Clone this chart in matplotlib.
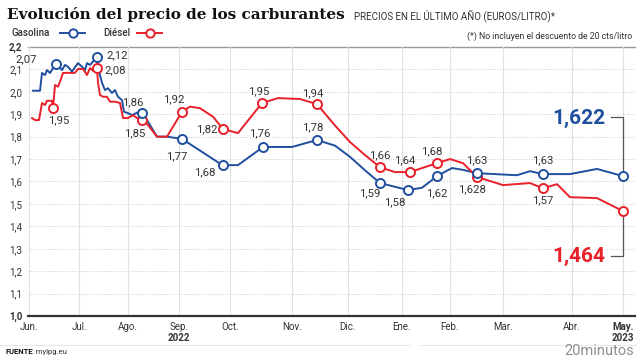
import matplotlib
matplotlib.use("Agg")
import matplotlib.pyplot as plt
import numpy as np

# ---------------- data ----------------
months = ["Jun.", "Jul.", "Ago.", "Sep.", "Oct.", "Nov.", "Dic.", "Ene.", "Feb.", "Mar.", "Abr.", "May."]
month_pos = [29, 79, 128, 179, 230, 292, 348, 402, 450, 503, 572, 623]

gas_x = [33, 40, 42, 45, 47, 50, 53, 56, 62, 65, 68, 72, 75, 78, 82, 85, 87, 90, 93, 97,
         99, 102, 105, 108, 112, 115, 118, 122, 124, 128, 132, 137, 142, 147, 157, 167, 182,
         220, 223, 238, 263, 292, 317, 335, 350, 365, 380, 408, 422, 437, 452, 463, 477,
         517, 530, 543, 570, 597, 623]
gas_y = [2.005, 2.005, 2.084, 2.075, 2.097, 2.084, 2.106, 2.124, 2.097, 2.12, 2.112, 2.09,
         2.11, 2.128, 2.112, 2.097, 2.128, 2.12, 2.135, 2.155,
         2.09, 2.04, 2.008, 2.016, 1.995, 2.008, 1.978, 1.963, 1.911, 1.905, 1.896, 1.907,
         1.905, 1.874, 1.80, 1.80, 1.79,
         1.68, 1.673, 1.673, 1.754, 1.754, 1.785, 1.76, 1.71, 1.65, 1.593, 1.562, 1.572,
         1.624, 1.66, 1.652, 1.637, 1.628, 1.646, 1.633, 1.633, 1.656, 1.624]

die_x = [32, 35, 39, 42, 45, 47, 52, 53, 55, 58, 60, 63, 67, 72, 75, 78, 83, 87, 90, 93, 97,
         98, 100, 103, 107, 110, 115, 120, 123, 128, 133, 137, 142, 148, 157, 167, 182, 190,
         200, 213, 223, 238, 262, 278, 300, 317, 335, 350, 365, 380, 395, 410, 437, 450, 463,
         477, 503, 530, 543, 557, 570, 597, 623]
die_y = [1.883, 1.874, 1.874, 1.95, 1.941, 1.96, 1.96, 1.928, 2.03, 2.023, 2.045, 2.084,
         2.085, 2.084, 2.085, 2.102, 2.102, 2.075, 2.106, 2.094, 2.106,
         2.04, 1.986, 1.978, 1.978, 1.956, 1.956, 1.95, 1.883, 1.883, 1.896, 1.883, 1.874,
         1.852, 1.80, 1.80, 1.911, 1.934, 1.927, 1.889, 1.834, 1.816, 1.95, 1.972, 1.968,
         1.945, 1.85, 1.776, 1.718, 1.664, 1.642, 1.642, 1.682, 1.70, 1.682, 1.62, 1.584,
         1.593, 1.57, 1.588, 1.53, 1.526, 1.468]

gas_mark_x = [56, 97, 142, 182, 223, 263, 317, 380, 408, 437, 477, 543, 623]
gas_mark_y = [2.124, 2.155, 1.905, 1.79, 1.673, 1.754, 1.785, 1.593, 1.562, 1.624, 1.637, 1.633, 1.624]
gas_labels = ["2,07", "2,12", "1,86", "1,77", "1,68", "1,76", "1,78", "1,59", "1,58", "1,62", "1,628", "1,63", None]

die_mark_x = [53, 97, 142, 182, 223, 262, 317, 380, 410, 437, 477, 543, 623]
die_mark_y = [1.928, 2.106, 1.874, 1.911, 1.834, 1.95, 1.945, 1.664, 1.642, 1.682, 1.62, 1.57, 1.468]
die_labels = ["1,95", "2,08", "1,85", "1,92", "1,82", "1,95", "1,94", "1,66", "1,64", "1,68", "1,63", "1,57", None]

final_gas = "1,622"
final_die = "1,464"

yticks = [1.0, 1.1, 1.2, 1.3, 1.4, 1.5, 1.6, 1.7, 1.8, 1.9, 2.0, 2.1, 2.2]

# ---------------- style ----------------
BLUE = "#1f4f9e"
RED = "#e8202a"
TXT = "#333333"
FONT = "Roboto"

# label offsets in pixels (dx, dy), matched to marker order
gas_off = [(-30, 5), (20, 2), (-9, 11), (-5, -17), (-18, -7), (-3, 14), (-4, 13), (-10, -10),
           (-13, -12), (0, -17), (-5, -16), (0, 14), None]
die_off = [(6, -12), (18, -2), (-7, -13), (-8, 13), (-16, 0), (-3, 12), (-4, 11), (0, 12),
           (-5, 12), (-5, 12), (0, 17), (0, -12), None]

fig = plt.figure(figsize=(6.4, 3.6), dpi=100)
W, H = 640, 360
ax = fig.add_axes([28 / W, 1 - 316 / H, (635 - 28) / W, (316 - 47) / H])
ax.set_xlim(28, 635)
ax.set_ylim(1.0, 2.2)
for s in ax.spines.values():
    s.set_visible(False)

# grid
for v in yticks[1:-1]:
    ax.axhline(v, color="#cfcfcf", lw=0.7, ls=(0, (1, 1.5)), zorder=1)
ax.axhline(2.2, color="#9a9a9a", lw=1.0, zorder=1, clip_on=False)
for xp in month_pos:
    ax.axvline(xp, color="#e0e0e0", lw=0.8, zorder=1)
ax.axhline(1.0, color="#333333", lw=1.6, zorder=3, clip_on=False)

# lines
ax.plot(gas_x, gas_y, color=BLUE, lw=1.4, zorder=4, solid_joinstyle="round")
ax.plot(die_x, die_y, color=RED, lw=1.4, zorder=4, solid_joinstyle="round")
ax.plot(gas_mark_x, gas_mark_y, ls="none", marker="o", ms=6.5, mfc="white", mec=BLUE, mew=1.4,
        zorder=6, clip_on=False)
ax.plot(die_mark_x, die_mark_y, ls="none", marker="o", ms=6.5, mfc="white", mec=RED, mew=1.4,
        zorder=5, clip_on=False)

for xv, yv, lab, off in zip(gas_mark_x, gas_mark_y, gas_labels, gas_off):
    if lab:
        ax.annotate(lab, (xv, yv), xytext=off, textcoords="offset pixels", ha="center",
                    va="center", fontsize=8.2, color=TXT, family=FONT, zorder=7)
for xv, yv, lab, off in zip(die_mark_x, die_mark_y, die_labels, die_off):
    if lab:
        ax.annotate(lab, (xv, yv), xytext=off, textcoords="offset pixels", ha="center",
                    va="center", fontsize=8.2, color=TXT, family=FONT, zorder=7)

# final bracket & big values
fx = gas_mark_x[-1]
ax.annotate(final_gas, (fx, gas_mark_y[-1]), xytext=(-44, 58), textcoords="offset pixels",
            ha="center", va="center", fontsize=15, weight="bold", color=BLUE, family=FONT)
ax.annotate(final_die, (fx, die_mark_y[-1]), xytext=(-44, -45), textcoords="offset pixels",
            ha="center", va="center", fontsize=15, weight="bold", color=RED, family=FONT)
inv = ax.transData.inverted()
pg = ax.transData.transform((fx, gas_mark_y[-1]))
pd = ax.transData.transform((fx, die_mark_y[-1]))
top = inv.transform((pg[0], pg[1] + 59))
bot = inv.transform((pd[0], pd[1] - 45))
left_t = inv.transform((pg[0] - 12, pg[1] + 59))
left_b = inv.transform((pd[0] - 12, pd[1] - 45))
ax.plot([left_t[0], fx, fx], [top[1], top[1], gas_mark_y[-1]], color="#555555", lw=0.9, zorder=3)
ax.plot([left_b[0], fx, fx], [bot[1], bot[1], die_mark_y[-1]], color="#555555", lw=0.9, zorder=3)

# ticks
ax.set_yticks(yticks)
ax.set_yticklabels([f"{v:.1f}".replace(".", ",") for v in yticks], fontsize=7, color=TXT, family=FONT)
for t in ax.get_yticklabels():
    if t.get_text() in ("2,2", "1,0"):
        t.set_fontweight("bold")
ax.tick_params(axis="y", length=0, pad=4)
ax.set_xticks(month_pos)
ax.set_xticklabels(months, fontsize=7, color=TXT, family=FONT)
ax.get_xticklabels()[-1].set_fontweight("bold")
ax.tick_params(axis="x", length=0, pad=4)

# years
fig.text(179 / W, 1 - 338 / H, "2022", ha="center", va="center", fontsize=7, weight="bold",
         color=TXT, family=FONT)
fig.text(623 / W, 1 - 338 / H, "2023", ha="center", va="center", fontsize=7, weight="bold",
         color=TXT, family=FONT)

# titles
fig.text(7 / W, 1 - 14 / H, "Evolución del precio de los carburantes", ha="left", va="center",
         fontsize=11, weight="bold", family="DejaVu Serif", color="#111111")
fig.text(354 / W, 1 - 16 / H, "PRECIOS EN EL ÚLTIMO AÑO (EUROS/LITRO)*", ha="left", va="center",
         fontsize=7, color=TXT, family=FONT)
fig.text(632 / W, 1 - 36 / H, "(*) No incluyen el descuento de 20 cts/litro", ha="right",
         va="center", fontsize=6.3, color=TXT, family=FONT)

# legend
fig.text(12 / W, 1 - 33 / H, "Gasolina", ha="left", va="center", fontsize=7, weight="medium",
         color=TXT, family=FONT)
fig.text(103 / W, 1 - 33 / H, "Diésel", ha="left", va="center", fontsize=7, weight="medium",
         color=TXT, family=FONT)
for x0, col in ((60, BLUE), (137, RED)):
    fig.add_artist(plt.Line2D([x0 / W, (x0 + 25) / W], [1 - 33 / H] * 2, color=col, lw=1.4))
    fig.add_artist(plt.Line2D([(x0 + 12.5) / W], [1 - 33 / H], marker="o", ms=6, mfc="white",
                              mec=col, mew=1.4, ls="none"))

# footer
fig.add_artist(plt.Line2D([0, 410 / W], [1 - 345 / H] * 2, color="#e6e6e6", lw=0.8))
fig.add_artist(plt.Line2D([420 / W, 636 / W], [1 - 345 / H] * 2, color="#e6e6e6", lw=0.8))
t1 = fig.text(5 / W, 1 - 352 / H, "FUENTE", ha="left", va="center", fontsize=5.5, weight="bold",
              color="#111111", family=FONT)
fig.canvas.draw()
bb = t1.get_window_extent()
fig.text(bb.x1 / W, 1 - 352 / H, ": mylpg.eu", ha="left", va="center", fontsize=5.5,
         color=TXT, family=FONT)
fig.text(634 / W, 1 - 351 / H, "20minutos", ha="right", va="center", fontsize=10.5,
         color="#8f8f8f", family=FONT)

fig.savefig("out.png", dpi=100)
